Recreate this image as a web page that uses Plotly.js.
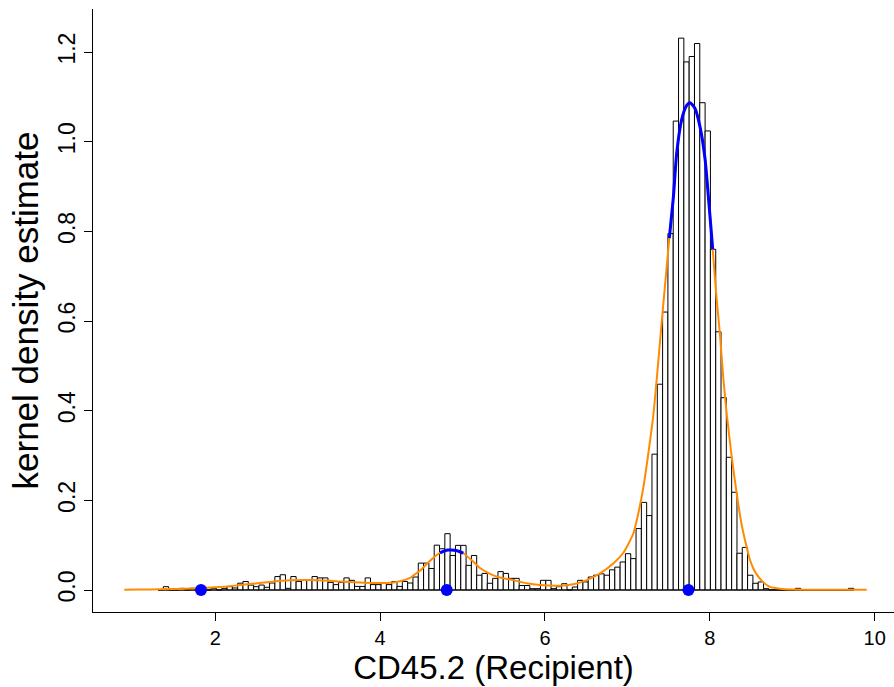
<!DOCTYPE html>
<html>
<head>
<meta charset="utf-8">
<script src="https://cdn.plot.ly/plotly-3.0.1.min.js"></script>
<style>html,body{margin:0;padding:0;background:#fff;}#chart{width:894px;height:687px;}</style>
</head>
<body>
<div id="chart"></div>
<script>
// ---- histogram (breaks + density per bin) ----
var breakStart = 1.3045;
var breakWidth = 0.06445;
var binDensity = [
  0, 0.0074, 0, 0, 0.0037, 0, 0.0037, 0.0037, 0, 0, 0.0037,
  0, 0.0037, 0.0074, 0.0045, 0.0152, 0.019, 0.011, 0.0074, 0.011, 0.006,
  0.0156, 0.030, 0.034, 0.0037, 0.030, 0.019, 0.022, 0.022, 0.030, 0.027,
  0.027, 0.017, 0.012, 0.017, 0.027, 0.0216, 0.008, 0.008, 0.027, 0.012,
  0.012, 0.0156, 0.012, 0.019, 0.008, 0.019, 0.0156, 0.029, 0.060, 0.060,
  0.048, 0.100, 0.092, 0.1256, 0.077, 0.0996, 0.0996, 0.055, 0.077, 0.033,
  0.037, 0.015, 0.026, 0.041, 0.037, 0.026, 0.026, 0.010, 0.010, 0.003,
  0.003, 0.0216, 0.0216, 0.003, 0.0074, 0.014, 0, 0.0067, 0.0216, 0.018,
  0.029, 0.033, 0.036, 0.033, 0.045, 0.051, 0.0625, 0.081, 0.070, 0.137,
  0.1955, 0.166, 0.303, 0.459, 0.620, 0.795, 1.046, 1.231, 1.178, 1.190,
  1.219, 1.087, 1.024, 0.760, 0.576, 0.429, 0.296, 0.218, 0.082, 0.095,
  0.033, 0.015, 0.018, 0.003, 0, 0, 0, 0, 0, 0.0037,
  0, 0, 0, 0, 0, 0, 0, 0, 0, 0.0037
];

// ---- kernel density estimate (orange) ----
var kdeX = [0.8955, 1.086, 1.3287, 1.5714, 1.8141, 2.0568, 2.2995, 2.5422, 2.6999, 2.9062,
  3.1125, 3.3916, 3.5129, 3.7556, 3.9134, 4.1197, 4.2410, 4.3624, 4.4437, 4.4837,
  4.5650, 4.6050, 4.6863, 4.7264, 4.7871, 4.8271, 4.8598, 4.9326, 5.0091, 5.1304,
  5.2117, 5.3331, 5.4544, 5.6158, 5.7784, 5.9398, 6.1825, 6.3402, 6.5065, 6.6679,
  6.8293, 6.9506, 7.0720, 7.1290, 7.1933, 7.2504, 7.3147, 7.3559, 7.3960, 7.4566,
  7.5088, 7.5573, 7.5986, 7.6593, 7.7199, 7.7600, 7.8206, 7.8813, 7.9420, 7.9905,
  8.0354, 8.0755, 8.1240, 8.1641, 8.2053, 8.2660, 8.3267, 8.3873, 8.4480, 8.4880,
  8.5281, 8.5693, 8.6494, 8.7307, 8.8520, 9.0098, 9.2161, 9.5801, 9.9042];
var kdeY = [0.0007, 0.0010, 0.0015, 0.0025, 0.004, 0.0065, 0.011, 0.0155, 0.0186, 0.0215,
  0.0223, 0.0205, 0.019, 0.0168, 0.0158, 0.0160, 0.0195, 0.027, 0.038, 0.043,
  0.058, 0.065, 0.078, 0.083, 0.0875, 0.089, 0.0893, 0.0875, 0.082, 0.063,
  0.049, 0.036, 0.028, 0.022, 0.015, 0.011, 0.0095, 0.0126, 0.022, 0.037,
  0.059, 0.083, 0.126, 0.168, 0.228, 0.300, 0.390, 0.470, 0.555, 0.680,
  0.785, 0.875, 0.975, 1.050, 1.081, 1.087, 1.074, 1.033, 0.962, 0.860,
  0.760, 0.665, 0.568, 0.472, 0.393, 0.297, 0.215, 0.145, 0.095, 0.067,
  0.048, 0.035, 0.017, 0.007, 0.003, 0.0012, 0.0008, 0.0007, 0.0007];

// ---- mode regions (blue) ----
var peak1X = [4.7264, 4.7871, 4.8271, 4.8598, 4.9326, 5.0091];
var peak1Y = [0.083, 0.0875, 0.089, 0.0893, 0.0875, 0.082];
var peak2X = [7.5088, 7.5573, 7.5986, 7.6593, 7.7199, 7.7600, 7.8206, 7.8813, 7.9420, 7.9905, 8.0354];
var peak2Y = [0.785, 0.875, 0.975, 1.050, 1.081, 1.087, 1.074, 1.033, 0.962, 0.860, 0.760];

// ---- points on the axis (blue dots) ----
var pointX = [1.826, 4.808, 7.741];
var pointY = [0, 0, 0];

// ---- axis ticks ----
var xTicks = [2, 4, 6, 8, 10];
var yTicks = [0, 0.2, 0.4, 0.6, 0.8, 1.0, 1.2];
var xTitle = 'CD45.2 (Recipient)';
var yTitle = 'kernel density estimate';

var centers = binDensity.map(function (d, i) { return breakStart + (i + 0.5) * breakWidth; });
var breakEnd = breakStart + binDensity.length * breakWidth;

var traces = [
  {
    type: 'bar', x: centers, y: binDensity, width: breakWidth,
    marker: { color: 'white', line: { color: 'black', width: 1 } },
    hoverinfo: 'skip'
  },
  {
    type: 'scatter', mode: 'lines', x: [breakStart, breakEnd], y: [0, 0],
    line: { color: 'black', width: 1 }, hoverinfo: 'skip'
  },
  {
    type: 'scatter', mode: 'lines', x: kdeX, y: kdeY,
    line: { color: '#FF8C00', width: 2, shape: 'spline', smoothing: 0.6 }
  },
  {
    type: 'scatter', mode: 'lines', x: peak1X, y: peak1Y,
    line: { color: '#0000FF', width: 3, shape: 'spline', smoothing: 0.6 }
  },
  {
    type: 'scatter', mode: 'lines', x: peak2X, y: peak2Y,
    line: { color: '#0000FF', width: 3, shape: 'spline', smoothing: 0.6 }
  },
  {
    type: 'scatter', mode: 'markers', x: pointX, y: pointY, cliponaxis: false,
    marker: { color: '#0000FF', size: 12, line: { width: 0 } }
  }
];

var layout = {
  width: 894, height: 687,
  margin: { l: 93, r: 0, t: 9, b: 75, pad: 0 },
  paper_bgcolor: 'white', plot_bgcolor: 'white',
  showlegend: false,
  bargap: 0,
  font: { family: 'Liberation Sans, Arial, sans-serif', color: 'black' },
  xaxis: {
    range: [0.5157, 10.235], tickvals: xTicks, ticktext: xTicks.map(String),
    ticks: 'outside', ticklen: 8, tickwidth: 1, tickcolor: 'black',
    showline: true, linecolor: 'black', linewidth: 1,
    showgrid: false, zeroline: false, automargin: false,
    tickfont: { size: 20 },
    title: { text: xTitle, font: { size: 33 }, standoff: 4 }
  },
  yaxis: {
    range: [-0.04907, 1.29601], tickvals: yTicks, ticktext: yTicks.map(function (v) { return v.toFixed(1); }),
    tickangle: -90,
    ticks: 'outside', ticklen: 8, tickwidth: 1, tickcolor: 'black',
    showline: true, linecolor: 'black', linewidth: 1,
    showgrid: false, zeroline: false, automargin: false,
    tickfont: { size: 23 },
    title: { text: yTitle, font: { size: 35 }, standoff: 4 }
  }
};

Plotly.newPlot('chart', traces, layout, { staticPlot: true, displayModeBar: false });
</script>
</body>
</html>
